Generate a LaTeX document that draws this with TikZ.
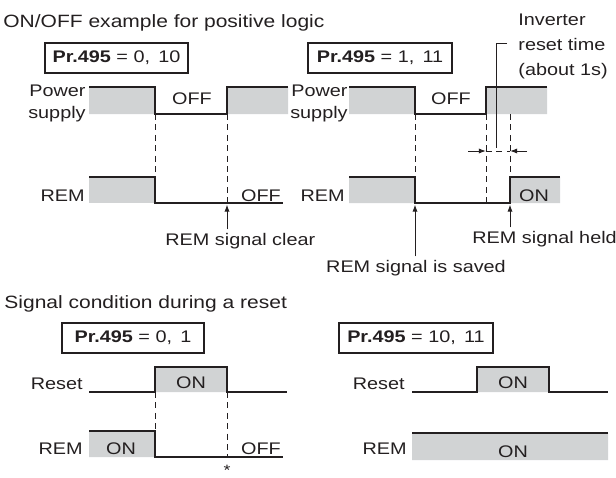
\documentclass[tikz,border=0pt]{standalone}
\usepackage{fontspec}
\setmainfont{Liberation Sans}[FakeStretch=1.18]
\usetikzlibrary{arrows.meta}
\definecolor{ink}{HTML}{231F20}
\definecolor{level}{HTML}{D1D3D4}

\begin{document}
\begin{tikzpicture}[x=0.5pt, y=-0.5pt,
    wave/.style={draw=ink, line width=0.65pt},
    high/.style={fill=level},
    guide/.style={draw=ink, line width=0.45pt, dash pattern=on 3pt off 2.2pt},
    pointer/.style={draw=ink, line width=0.5pt, -{Latex[length=3.6pt,width=2.6pt]}},
    lbl/.style={font=\fontsize{8.4}{11}\selectfont, text=ink, inner sep=0pt},
    head/.style={lbl, font=\fontsize{8.9}{11}\selectfont, anchor=base west},
    prbox/.style={lbl, draw=ink, line width=0.6pt, minimum height=15pt}]
  \useasboundingbox (0,0) rectangle (616,477);
  % titles and parameter boxes
  \node[head] (title1) at (3,27) {ON/OFF example for positive logic};
  \node[head] (title2) at (4,308) {Signal condition during a reset};
  \node[prbox, minimum width=71.5pt] (box1) at (116.5,58) {\textbf{Pr.495} = 0,\, 10};
  \node[prbox, minimum width=72pt] (box2) at (380,58) {\textbf{Pr.495} = 1,\, 11};
  \node[prbox, minimum width=71pt] (box3) at (133,338) {\textbf{Pr.495} = 0,\, 1};
  \node[prbox, minimum width=77pt] (box4) at (416,338) {\textbf{Pr.495} = 10,\, 11};
  % Pr.495 = 0, 10
  \fill[high] (89,87) rectangle (155,114) (227,87) rectangle (288,114);
  \draw[wave] (89,87) -- (155,87) -- (155,114) -- (227,114) -- (227,87) -- (288,87);
  \fill[high] (89,177) rectangle (155,203);
  \draw[wave] (89,177) -- (155,177) -- (155,203) -- (283,203);
  \draw[guide] (155,114) -- (155,177) (227,114) -- (227,203);
  \node[lbl, align=right, anchor=east] (pwr1) at (86,103) {Power\\supply};
  \node[lbl, anchor=base] (off1) at (192,104) {OFF};
  \node[lbl, anchor=base east] (rem1) at (85,201) {REM};
  \node[lbl, anchor=base] (off2) at (261,201) {OFF};
  \node[lbl, anchor=base west] (clrnote) at (165,245) {REM signal clear};
  \coordinate (clr) at (227,204.5);
  \draw[pointer] (clrnote.north -| clr) ++(0,-3) -- (clr);
  % Pr.495 = 1, 11
  \fill[high] (349,87) rectangle (415,114) (486,87) rectangle (547,114);
  \draw[wave] (349,87) -- (415,87) -- (415,114) -- (486,114) -- (486,87) -- (547,87);
  \fill[high] (349,177) rectangle (415,203) (510,177) rectangle (560,203);
  \draw[wave] (349,177) -- (415,177) -- (415,203) -- (510,203) -- (510,177) -- (560,177);
  \draw[guide] (415,114) -- (415,177) (486,114) -- (486,203) (510,114) -- (510,177);
  \node[lbl, align=right, anchor=east] (pwr2) at (348,103) {Power\\supply};
  \node[lbl, anchor=base] (off3) at (451,104) {OFF};
  \node[lbl, anchor=base east] (rem2) at (345,201) {REM};
  \node[lbl, anchor=base] (on1) at (534,201) {ON};
  % reset time
  \node[lbl, align=left, anchor=north west, font=\fontsize{8.4}{12.3}\selectfont]
    (invnote) at (518,14) {Inverter\\reset time\\(about 1s)};
  \coordinate (lead1) at (507,43);
  \coordinate (lead2) at (496,148);
  \draw[draw=ink, line width=0.5pt] (lead1) -- (lead1 -| lead2) -- (lead2);
  \coordinate (rs1) at (486,151);
  \coordinate (rs2) at (510,151);
  \draw[pointer] ([xshift=-9pt]rs1) -- (rs1);
  \draw[pointer] ([xshift=8.5pt]rs2) -- (rs2);
  \draw[guide] (rs1) -- (rs2);
  \node[lbl, anchor=base] (savnote) at (416,272) {REM signal is saved};
  \coordinate (sav) at (415,204.5);
  \draw[pointer] (savnote.north -| sav) ++(0,-3) -- (sav);
  \node[lbl, anchor=base west] (heldnote) at (472,243) {REM signal held};
  \coordinate (held) at (510,204.5);
  \draw[pointer] (heldnote.north -| held) ++(0,-3) -- (held);
  % Pr.495 = 0, 1
  \fill[high] (155,367) rectangle (227,392) (89,431) rectangle (155,457);
  \draw[wave] (89,392) -- (155,392) -- (155,367) -- (227,367) -- (227,392) -- (287,392);
  \draw[wave] (89,431) -- (155,431) -- (155,457) -- (283,457);
  \draw[guide] (155,392) -- (155,431) (227,392) -- (227,457);
  \node[lbl, anchor=base east] (rst1) at (83,389) {Reset};
  \node[lbl, anchor=base] (on2) at (191,388) {ON};
  \node[lbl, anchor=base east] (rem3) at (83,454) {REM};
  \node[lbl, anchor=base] (on3) at (121,454) {ON};
  \node[lbl, anchor=base] (off4) at (261,454) {OFF};
  \node[lbl, font=\fontsize{7.5}{8}\selectfont] (star) at (227,470.5) {*};
  % Pr.495 = 10, 11
  \fill[high] (477,367) rectangle (549,392) (412,433) rectangle (608,460);
  \draw[wave] (412,392) -- (477,392) -- (477,367) -- (549,367) -- (549,392) -- (608,392);
  \draw[wave] (412,433) -- (608,433);
  \node[lbl, anchor=base east] (rst2) at (405,389) {Reset};
  \node[lbl, anchor=base] (on4) at (513,388) {ON};
  \node[lbl, anchor=base east] (rem4) at (407,454) {REM};
  \node[lbl, anchor=base] (on5) at (513,457) {ON};
\end{tikzpicture}
\end{document}
